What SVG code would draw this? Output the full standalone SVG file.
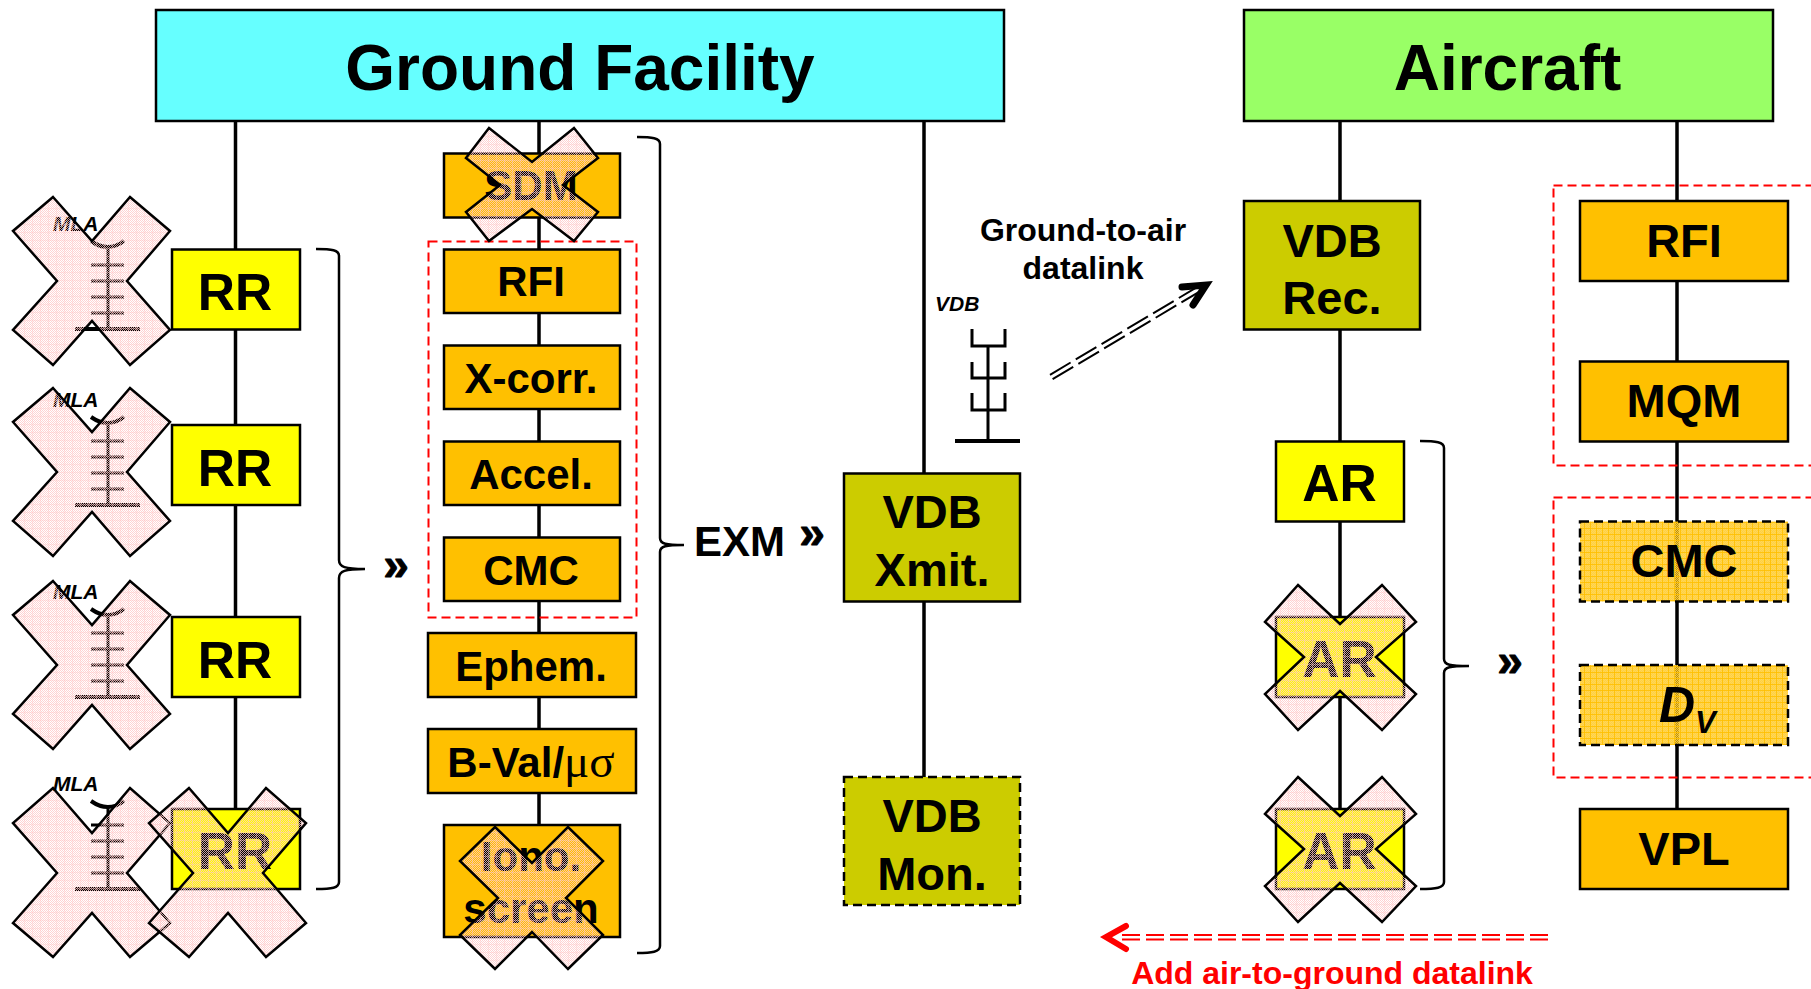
<svg xmlns="http://www.w3.org/2000/svg" xmlns:xlink="http://www.w3.org/1999/xlink" width="1811" height="989" viewBox="0 0 1811 989">
<style>
text{font-family:"Liberation Sans",Arial,sans-serif;font-weight:bold;fill:#000;text-anchor:middle}
.box{stroke:#000;stroke-width:2.5}
.y{fill:#FFFF00}.o{fill:#FFC000}.g{fill:#CCCC00}
.d{stroke-dasharray:9 5}
.hat{fill:url(#hatch)}
.t64{font-size:64px}.t50{font-size:51.500px}.t47{font-size:47px}.t42{font-size:42px}.t32{font-size:32px}
.it{font-style:italic;font-size:21px;text-anchor:start}
.dq{font-size:46px;stroke:#000;stroke-width:.9}
.line{stroke:#000;stroke-width:3.5;fill:none}
.brace{stroke:#000;stroke-width:2.5;fill:none}
.xx{fill:url(#xfill);stroke:#000;stroke-width:2.5;stroke-linejoin:miter}
.red{fill:none;stroke:#FF0000;stroke-width:2;stroke-dasharray:9 5}
.rl{stroke:#FF0000;stroke-width:2;stroke-dasharray:18 6;fill:none}
.bl{stroke:#000;stroke-width:2;stroke-dasharray:24 6;fill:none}
</style>
<defs>
<pattern id="chk" width="2" height="2" patternUnits="userSpaceOnUse">
<rect x="0" y="0" width="1" height="1" fill="#FFC8C8" fill-opacity=".8"/><rect x="1" y="1" width="1" height="1" fill="#FFC8C8" fill-opacity=".8"/>
</pattern>
<pattern id="xfill" width="8" height="8" patternUnits="userSpaceOnUse">
<rect width="8" height="8" fill="url(#chk)"/>
<rect width="8" height="1" fill="#FFC8C8" fill-opacity=".35"/><rect width="1" height="8" fill="#FFC8C8" fill-opacity=".35"/>
</pattern>
<pattern id="chk2" width="2" height="2" patternUnits="userSpaceOnUse">
<rect width="2" height="2" fill="#FFC000" fill-opacity=".75"/>
<rect x="0" y="0" width="1" height="1" fill="#FFD860" fill-opacity=".75"/><rect x="1" y="1" width="1" height="1" fill="#FFD860" fill-opacity=".75"/>
</pattern>
<pattern id="hatch" width="6" height="6" patternUnits="userSpaceOnUse">
<rect width="6" height="6" fill="url(#chk2)"/>
<rect width="6" height="1" fill="#FFC000" fill-opacity=".85"/><rect width="1" height="6" fill="#FFC000" fill-opacity=".85"/>
</pattern>
<g id="mla">
<path d="M91,241 Q108,253 124,241" fill="none" stroke="#000" stroke-width="4"/>
<path d="M108,247V329M91,265H124M91,281H124M91,297H124M91,313H124" fill="none" stroke="#000" stroke-width="3"/>
<path d="M75,329H140" fill="none" stroke="#000" stroke-width="4"/>
</g>
</defs>
<rect width="1811" height="989" fill="#FFFFFF"/>

<g id="connectors">
<path class="line" d="M235.500,121V810M539,121V825M924,121V777M1340,121V809M1677,121V809"/>
<path class="brace" d="M316,249C332,249 339,250 339,256V560C339,567 345,569 365,569C345,569 339,571 339,578V882C339,888 332,889 316,889"/>
<path class="brace" d="M637,137C652,137 660,138 660,144V538C660,544 666,545 684,545C666,545 660,546 660,552V946C660,952 652,953 637,953"/>
<path class="brace" d="M1420,441C1436,441 1444,442 1444,448V659C1444,665 1450,666 1469,666C1450,666 1444,667 1444,673V882C1444,888 1436,889 1420,889"/>
<g id="ground-to-air-arrow">
<path class="bl" d="M1050,374.800L1200,285.400M1052.600,379.200L1202.600,289.800"/>
<path d="M1182,287L1206,285L1193,305" fill="none" stroke="#000" stroke-width="7" stroke-linecap="round" stroke-linejoin="miter"/>
</g>
<g id="air-to-ground-arrow">
<path class="rl" d="M1122,935H1548M1122,939.500H1548"/>
<path d="M1126,926L1106,937L1126,949" fill="none" stroke="#FF0000" stroke-width="6" stroke-linecap="round" stroke-linejoin="miter"/>
</g>
</g>

<g id="headers">
<g id="ground-facility"><rect class="box" x="156" y="10" width="848" height="111" fill="#66FFFF"/><text class="t64" x="580" y="90">Ground Facility</text></g>
<g id="aircraft"><rect class="box" x="1244" y="10" width="529" height="111" fill="#99FF66"/><text class="t64" x="1507.500" y="90">Aircraft</text></g>
</g>

<g id="antennas">
<use href="#mla"/><use href="#mla" y="176"/><use href="#mla" y="368"/><use href="#mla" y="560"/>
<text class="it" x="53" y="231">MLA</text><text class="it" x="53" y="407">MLA</text><text class="it" x="53" y="599">MLA</text><text class="it" x="53" y="791">MLA</text>
<g id="vdb-antenna">
<path d="M972,329V346H1005V329M972,362V378H1005V362M972,393V410H1005V393M988,346V442" fill="none" stroke="#000" stroke-width="3"/>
<path d="M955,441H1020" fill="none" stroke="#000" stroke-width="4"/>
<text class="it" x="935" y="311">VDB</text>
</g>
</g>

<g id="rr-1"><rect class="box y" x="172" y="249.500" width="128" height="80"/><text class="t50" x="235" y="310">RR</text></g>
<g id="rr-2"><rect class="box y" x="172" y="425" width="128" height="80"/><text class="t50" x="235" y="486">RR</text></g>
<g id="rr-3"><rect class="box y" x="172" y="617" width="128" height="80"/><text class="t50" x="235" y="678">RR</text></g>
<g id="rr-4"><rect class="box y" x="172" y="809" width="128" height="80"/><text class="t50" x="235" y="869">RR</text></g>

<g id="sdm"><rect class="box o" x="444" y="153.500" width="176" height="64"/><text class="t42" x="531" y="200">SDM</text></g>
<g id="rfi-g"><rect class="box o" x="444" y="249.500" width="176" height="63.500"/><text class="t42" x="531" y="296">RFI</text></g>
<g id="x-corr"><rect class="box o" x="444" y="345.500" width="176" height="63.500"/><text class="t42" x="531" y="393">X-corr.</text></g>
<g id="accel"><rect class="box o" x="444" y="441.500" width="176" height="63.500"/><text class="t42" x="531" y="489">Accel.</text></g>
<g id="cmc-g"><rect class="box o" x="444" y="537.500" width="176" height="63.500"/><text class="t42" x="531" y="585">CMC</text></g>
<g id="ephem"><rect class="box o" x="428" y="633" width="208" height="64"/><text class="t42" x="531" y="681">Ephem.</text></g>
<g id="b-val"><rect class="box o" x="428" y="729" width="208" height="64"/><text class="t42" x="531" y="777">B-Val/<tspan font-family="'Liberation Serif',serif" font-weight="normal" font-size="47">μσ</tspan></text></g>
<g id="iono"><rect class="box o" x="444" y="825" width="176" height="112"/><text class="t42" x="531" y="871">Iono.</text><text class="t42" x="531" y="923">screen</text></g>
<rect id="red-ground" class="red" x="428.500" y="241.500" width="208" height="376"/>

<g id="vdb-xmit"><rect class="box g" x="844" y="473.500" width="176" height="128"/><text class="t47" x="932" y="528">VDB</text><text class="t47" x="932" y="586">Xmit.</text></g>
<g id="vdb-mon"><rect class="box g d" x="844" y="777" width="176" height="128"/><text class="t47" x="932" y="832">VDB</text><text class="t47" x="932" y="890">Mon.</text></g>
<g id="vdb-rec"><rect class="box g" x="1244" y="201" width="176" height="128.500"/><text class="t47" x="1332" y="257">VDB</text><text class="t47" x="1332" y="314">Rec.</text></g>

<g id="ar-1"><rect class="box y" x="1276" y="441.500" width="128" height="80"/><text class="t50" x="1339.500" y="501">AR</text></g>
<g id="ar-2"><rect class="box y" x="1276" y="617" width="128" height="80"/><text class="t50" x="1339.500" y="677">AR</text></g>
<g id="ar-3"><rect class="box y" x="1276" y="809" width="128" height="80"/><text class="t50" x="1339.500" y="869">AR</text></g>

<g id="rfi-a"><rect class="box o" x="1580" y="201" width="208" height="80"/><text class="t47" x="1684" y="257">RFI</text></g>
<g id="mqm"><rect class="box o" x="1580" y="361.500" width="208" height="80"/><text class="t47" x="1684" y="417">MQM</text></g>
<g id="cmc-a"><rect class="box hat d" x="1580" y="521.500" width="208" height="80"/><text class="t47" x="1684" y="577">CMC</text></g>
<g id="dv"><rect class="box hat d" x="1580" y="665" width="208" height="80"/><text x="1659" y="722" font-size="50" font-style="italic" style="text-anchor:start">D<tspan font-size="31" dy="11">V</tspan></text></g>
<g id="vpl"><rect class="box o" x="1580" y="809" width="208" height="80"/><text class="t47" x="1684" y="865">VPL</text></g>
<rect id="red-air-1" class="red" x="1553.500" y="185.500" width="300" height="280"/>
<rect id="red-air-2" class="red" x="1553.500" y="497.500" width="300" height="280"/>

<g id="labels">
<text class="t42" x="694" y="556" style="text-anchor:start">EXM</text>
<text class="dq" x="396" y="580">»</text>
<text class="dq" x="812" y="548">»</text>
<text class="dq" x="1510" y="676">»</text>
<text class="t32" x="1083" y="241">Ground-to-air</text>
<text class="t32" x="1083" y="279">datalink</text>
<text class="t32" x="1332" y="984" style="fill:#FF0000">Add air-to-ground datalink</text>
</g>

<g id="crosses">
<polygon class="xx" points="53,197 92,241 130,197 170,231 127,281 170,330 130,365 92,321 53,365 13,330 57,281 13,231"/>
<polygon class="xx" points="53,388 92,432 130,388 170,422 127,472 170,521 130,556 92,512 53,556 13,521 57,472 13,422"/>
<polygon class="xx" points="53,581 92,625 130,581 170,615 127,665 170,714 130,749 92,705 53,749 13,714 57,665 13,615"/>
<polygon class="xx" points="53,788 92,833 130,788 170,823 127,873 170,923 130,957 92,913 53,957 13,923 57,873 13,823"/>
<polygon class="xx" points="189,788 228,833 266,788 306,823 263,873 306,923 266,957 228,913 189,957 149,923 193,873 149,823"/>
<polygon class="xx" points="489,128 532,162 574,128 598,158 563,185 598,212 574,241 532,209 489,241 466,212 500,185 466,158"/>
<polygon class="xx" points="495,827 532,863 568,827 603,861 566,898 603,935 568,969 532,932 495,969 460,935 498,898 460,861"/>
<polygon class="xx" points="1298,585 1340,624 1382,585 1416,622 1376,657 1416,694 1382,730 1340,691 1298,730 1265,694 1304,657 1265,622"/>
<polygon class="xx" points="1298,777 1340,816 1382,777 1416,814 1376,849 1416,886 1382,922 1340,883 1298,922 1265,886 1304,849 1265,814"/>
</g>
</svg>
